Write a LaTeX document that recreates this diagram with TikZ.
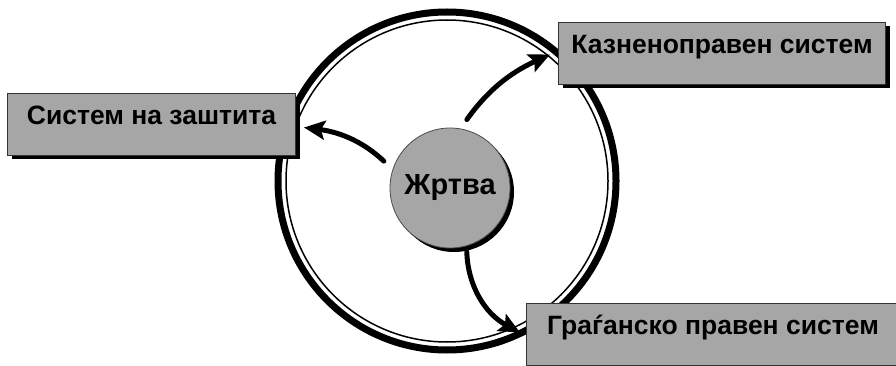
\documentclass[tikz,border=0pt]{standalone}
\usepackage{fontspec}
\setmainfont{Liberation Sans}
\usetikzlibrary{shadows,arrows.meta}

\begin{document}
\begin{tikzpicture}
		[x=1pt,y=-1pt,line cap=round,
		%Styles
		outer ring/.style={line width=7pt},
		inner ring/.style={line width=1.5pt},
		dark shadow/.style={drop shadow={shadow xshift=4pt,shadow yshift=-4pt,fill=black,opacity=1}},
		system box/.style={rectangle,draw=black!80,line width=1pt,fill=boxgray,anchor=north west,
			minimum height=62pt,text height=19pt,text depth=19pt,inner sep=0pt,
			font=\bfseries\fontsize{26.5pt}{30pt}\selectfont,dark shadow},
		victim disc/.style={circle,draw=black!70,line width=0.8pt,fill=boxgray,minimum size=120pt,
			inner sep=0pt,font=\bfseries\fontsize{29pt}{32pt}\selectfont,dark shadow},
		flow/.style={line width=5pt,->},
		>={Stealth[length=21pt,width=19pt,inset=4pt]}
		]
		
		%Colors
		\colorlet{boxgray}{black!35}	%boxes and disc
		
		\useasboundingbox (0,0) rectangle (896,366);
		\clip (0,0) rectangle (896,366);
		
		%The ring
		\draw[outer ring] (447,181) circle (169pt);
		\draw[inner ring] (447,181) circle (161pt);
		
		%The systems
		\node[system box,minimum width=288pt] (protection) at (7,93) {Систем на заштита};
		\node[system box,minimum width=327pt] (criminal) at (558,22) {Казненоправен систем};
		\node[system box,minimum width=373pt] (civil) at (526,303) {Граѓанско правен систем};
		
		\node[victim disc] (victim) at (450,188) {Жртва};
		
		%The arrows
		\draw[flow,shorten <=12pt] (victim.162) to[bend right=18] ([xshift=8pt,yshift=-3pt]protection.east);
		\draw[flow,shorten <=11pt] (victim.80) to[bend left=15] ([xshift=-8pt,yshift=-1pt]criminal.west);
		\draw[flow,shorten <=6pt] (victim.286) to[bend right=30] ([xshift=-6pt,yshift=2pt]civil.west);
	\end{tikzpicture}
\end{document}
